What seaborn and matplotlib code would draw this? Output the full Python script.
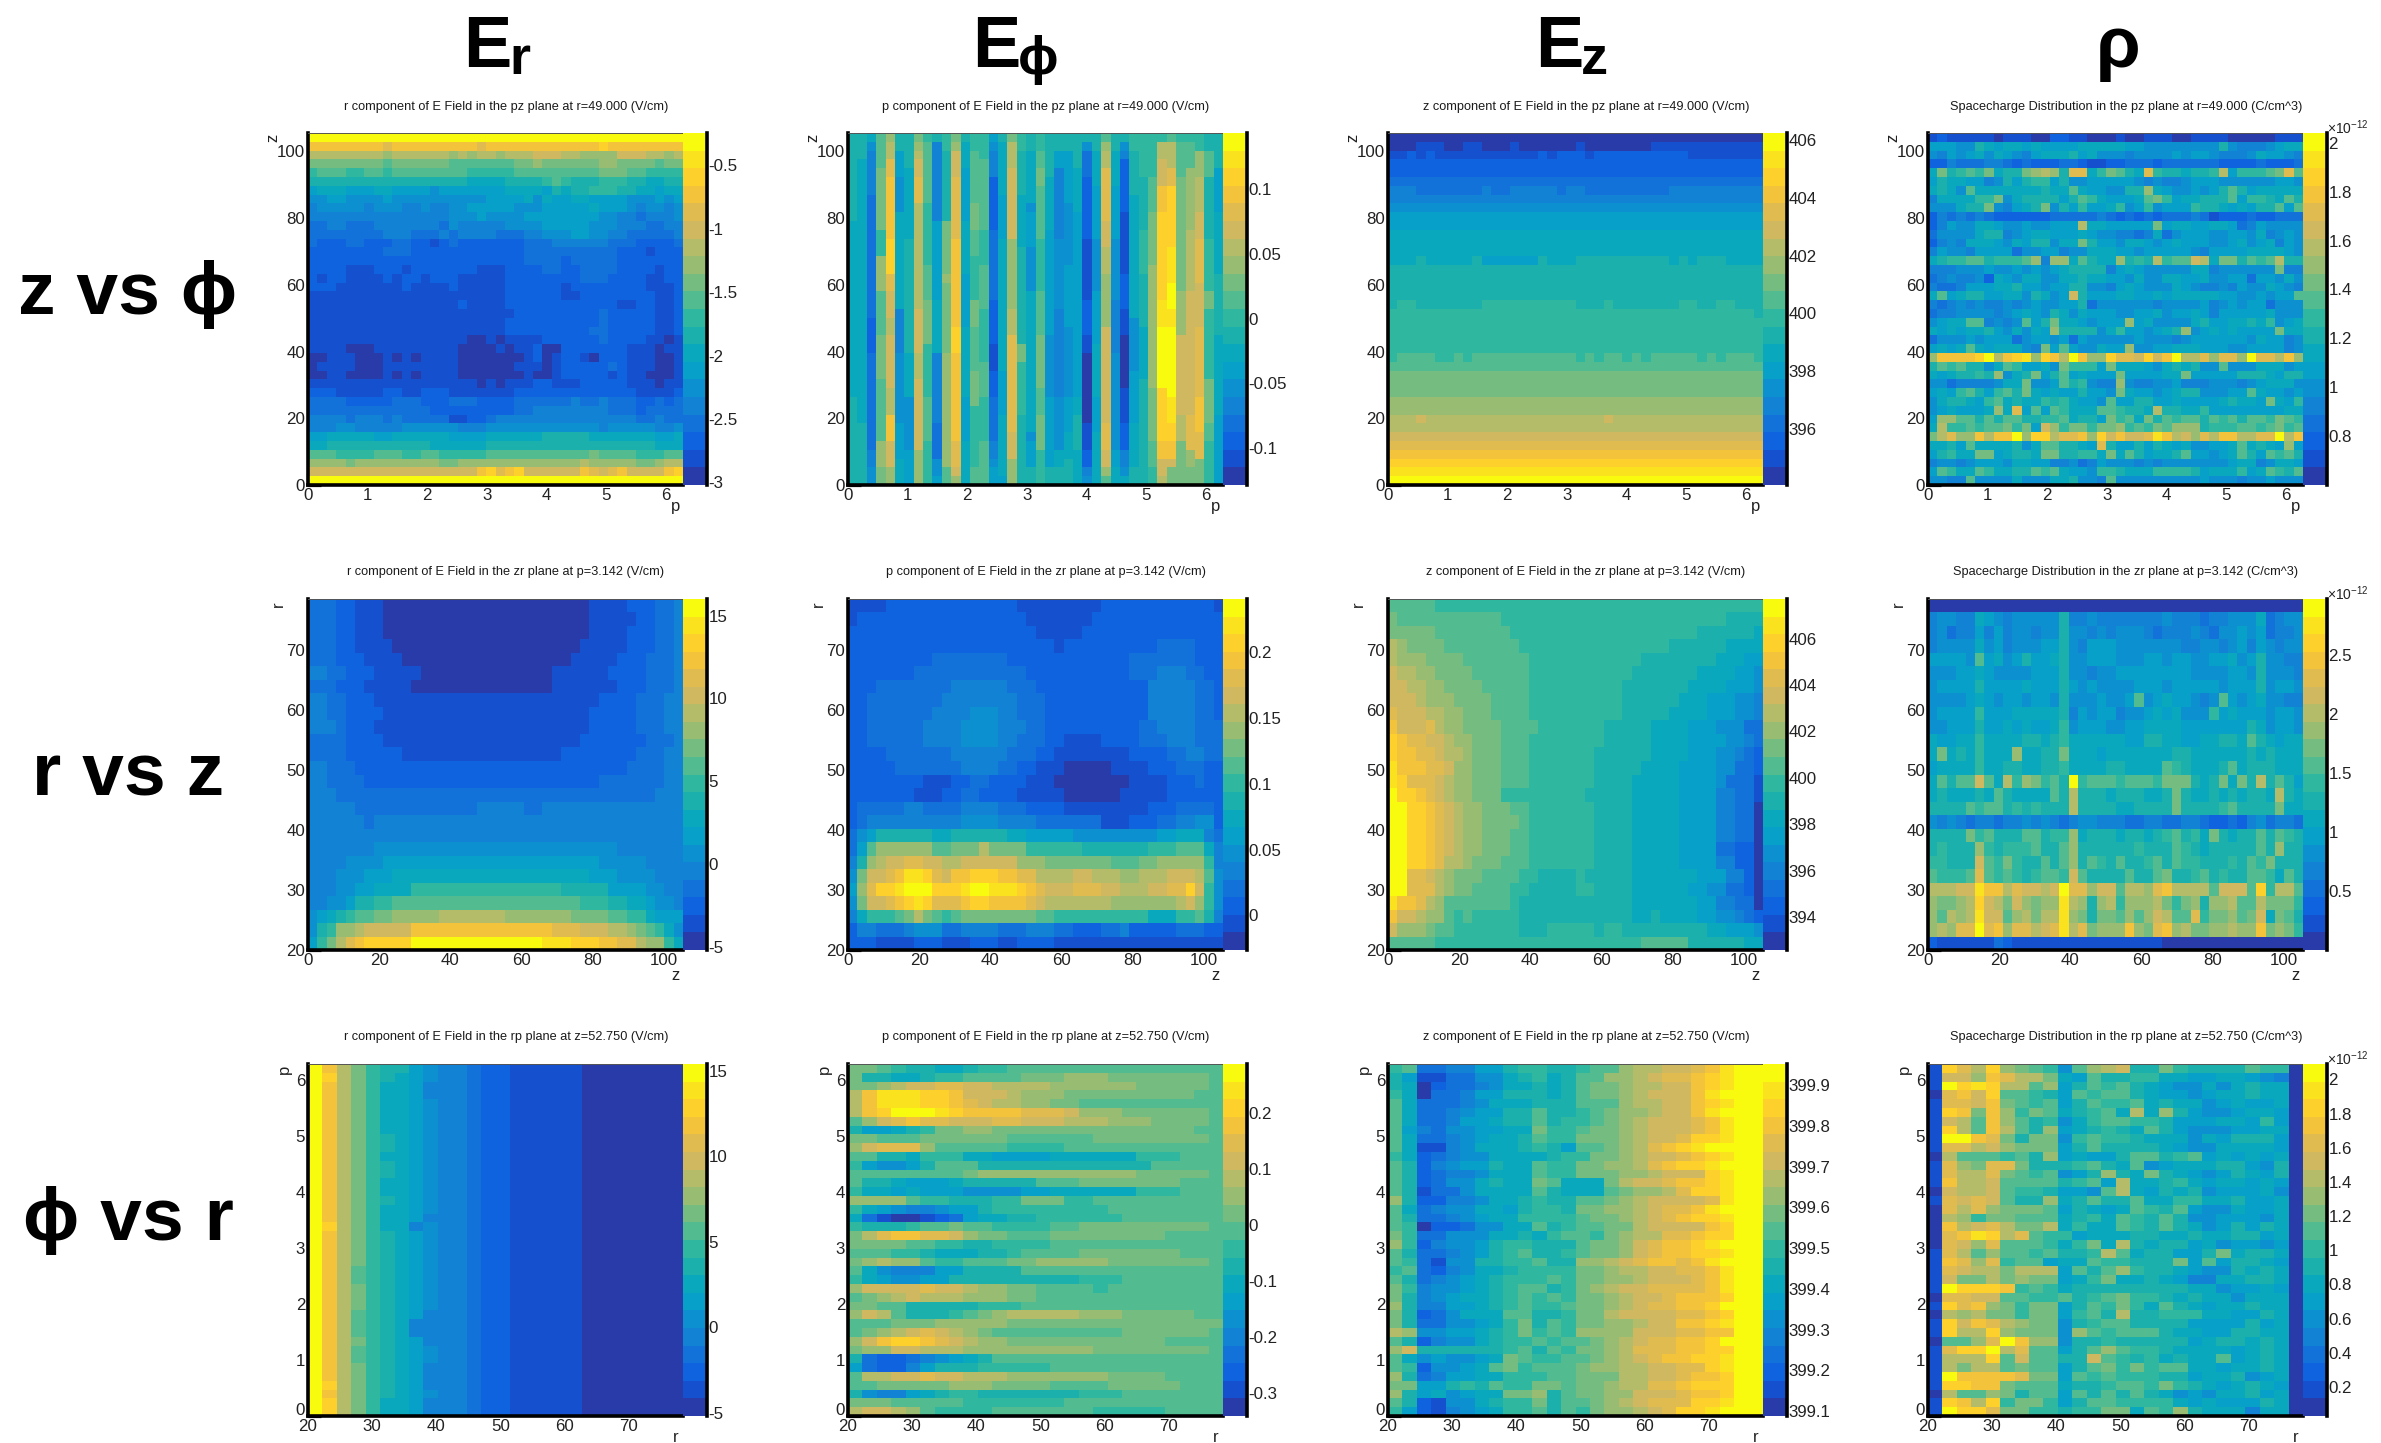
import numpy as np
import pandas as pd
import matplotlib
matplotlib.use("Agg")
import matplotlib.pyplot as plt
from matplotlib.colors import ListedColormap
from matplotlib.transforms import ScaledTranslation
import seaborn as sns

W, H = 2381, 1443
SYMS = "0123456789abcdefghij"

# Cell values are read from the picture as colour-band indices (one character per cell),
# either as plain strings or as "level+count" runs; columns-first where noted.
ER_PZ = [
 "j40",
 "ggggggggfgggggggggfgggggggggggghgggggggg",
 "ddddddddcddddddcdcddcdddeeeddcccceeeddcd",
 "bbbbbbbbabbbbbbaaaaaaabbcbbbbbbccbbbbabb",
 "9aaa99aa9aaaaaaaa99999aaaaaaaaabbbaa9999",
 "88888888888888888777788889a98889998877888",
 "6777666776666566666667777687889998877677",
 "5566555565555555555666675766776666555656",
 "4555554555445445566666555666667666545545",
 "4444444444444445556555566666666554434445",
 "3344333444444435444445555666665554443344",
 "3333333344433343444433344555665544333334",
 "3222332223322123222222233344444433322223",
 "2222222233322222222222233333333332221222",
 "2222222222222222222222233332333332222222",
 "2222111222122222221112222332233332222122",
 "2122111121221222111112222222233322221122",
 "2221111111211112111112222221222222221112",
 "1111111111111111111112222221122222222112",
 "1111111111111111211112222222222221122112",
 "1111111111111111111111222222222322222112",
 "1111111111111111111112222222222322222112",
 "1111111111111111111112222222223322222112",
 "1111111111111111100101111222222322221101",
 "1111000111111111000010112002222222111011",
 "0011100010101111000000012012210222111001",
 "0111100011111111000000111012222232111001",
 "0011000010101111000000010012222212110001",
 "1111111111111111110101112211122222111011",
 "2221111122112221111111222222222222211112",
 "3333222223332223332222333333433433322323",
 "3333333333333222222222334444444433323333",
 "4444344434333331122344444444444444433433",
 "4445544444555555444555555555555455555445",
 "6677777667777776666777777888887777777667",
 "7788888888888777777888888888888888888777",
 "aaa9999aaa99aa99999aaaaaaaaaaabaaaa999aa",
 "ccccbcccccccccbbcccccccccccccdcccccbbcdd",
 "eeeeeeeeeeeeeeeeeeghfgheeeeeegfefgeeeegh",
 "j40",
]
EPHI_PZ_COLS = [
 "810 720 810", "83 730 87", "71 51 45 314 24 311 42 52", "a4 b7 93 c4 a5 b5 a7 c3 b2",
 "c1 d2 f2 g7 h4 f2 e3 d2 e6 d3 g3 e3 c2", "82 63 54 76 75 45 58 64 73", "84 78 86 87 75 56 64",
 "b1 c1 d1 e2 f3 d12 e5 d3 e8 c4", "91 a7 97 a4 b5 96 a5 95", "81 49 69 76 48 34 52 62",
 "92 88 b6 c1 b8 c13 a2", "b1 c1 e3 f7 g10 h3 g10 f3 e1 c1", "81 73 66 76 66 78 65 75",
 "92 a6 b3 a3 95 b3 a5 b4 95 92 a2", "93 a8 94 a5 96 a4 95 a5", "61 51 43 26 35 33 25 13 23 35 42 51 62",
 "81 76 65 78 77 65 77 61", "b1 d3 e8 c8 d3 f11 e3 c3", "92 85 76 86 85 b2 96 88",
 "82 76 51 64 55 77 79 51 63 82", "92 a2 b2 a6 96 a5 b6 a3 b4 94", "85 76 67 65 57 68 82",
 "82 62 48 53 55 410 56 72 82", "82 66 57 67 58 64 73 85", "84 75 66 65 66 64 72 84 74",
 "81 51 33 27 17 24 12 08 13 22 41 51", "82 74 66 56 66 76 64 76", "a1 c1 d2 f6 e3 d3 c6 e8 e3 f3 e2 c1 a1",
 "82 74 66 57 46 55 56 62 74", "81 51 41 26 17 24 13 06 14 23 42 51 71", "92 85 78 76 56 66 75 82",
 "95 86 95 86 76 88 84", "95 a4 b6 c14 b6 a3 92", "91 d2 e3 g3 h10 i3 j7 h6 g2 e2 d1",
 "a1 d3 f2 h7 i4 j3 i2 j8 i3 h2 g2 e1 b2", "91 a4 b13 c5 e9 d3 b5", "91 a3 c7 d7 e6 e8 f4 c2 b2",
 "92 c3 d4 e3 f5 e5 f8 g4 f3 b3", "82 a3 87 96 b2 98 b5 a2 95", "84 65 77 87 79 68",
]
EZ_PZ = [
 "040", "03 13 02 12 03 11 06 11 07 115 04", "12 21 11 21 111 20 21 11 23 11 210 15", "240", "240", "340",
 "43 32 35 41 32 42 43 31 41 41 39 42", "440", "540", "640", "640", "740", "740", "740",
 "73 81 75 81 66 81 73 81 89 71 81 71 83 75", "840", "840", "840", "840",
 "81 92 86 81 910 83 91 82 85 92 82 92 81", "939 81", "940", "940", "940", "940",
 "91 a4 92 a1 91 a11 91 a1 91 a2 91 a1 91 a5 91 a1 91 a3 92", "a40", "b40", "b40", "b40", "c40", "c40",
 "d3 e1 d19 e1 d16", "d40", "e40", "f40", "g40", "h40", "i40", "j40",
]
RHO_PZ = [
 "1211111011100221100010011100111100000111",
 "6665587677676666777776655555555854445677",
 "5465675765467778675554555565665444576654",
 "2243334432322233211223332333333222232223",
 "7b89a9b788bcdc8ff79ba87f9887889d6999abfa",
 "6877664586899685566666545445666555555665",
 "7875a7777777877a7665588c76556568a8677777",
 "4777799b57888868a976667ab9677888a69987a8",
 "555788b54678b586966795695666988767688a6a",
 "2434343222222333334323232333431222322333",
 "2465577655655666d7766666b677667763465555",
 "3555578845677666765544347356665566574565",
 "2454777657688577b86657765676665567567465",
 "4655466663556645577766566666546666777765",
 "7899aa8999ac4cc7a877c898d9aaed7bb8a9ad88",
 "4445556556565678888467655555774555555b44",
 "3454452765775577877665755776675566366575",
 "4334666778665668855467655576544546557654",
 "7a6788667758756e86667766767777766556566a",
 "4345454454565566835555554555564565663555",
 "3445555456765875766655667566764666667555",
 "5677aa4545a68b7765666c675555786677879567",
 "7676778657576c8888579665678c567676666b77",
 "3555656663566563655555655545666666576645",
 "6767a7677754b6a655766c55667776665566664554",
 "cgggghjdghichgdjgcchffehegjddfcffcjffdgcj",
 "8a9a8857a96675b9996b77765787855a55577756c6",
 "7678898c578b68a67666b666677b66666888768887",
 "5534444577b556a89544c5445564445554567775",
 "6769a869a8b767668665b7665678855566a76656c8",
 "5788769a78779897665a6688667666678776b7698",
 "5676667c7f6a6a9777aa9887d8877966666666777",
 "6ccaa8a8aa8899a7886b9a7b8a9aa8a9a8aa9ba9f",
 "7d99a9aab9b6ec9bb9bbc9a9baccc8999aa9ab9ab",
 "bdfccgdggjchhdffgchegeefigdecfdggddffjdg",
 "7786a7777857aa8876f86686876755667a7876c66",
 "68977bb67887bb88997b7a86778a66567a86a9a86",
 "4554566657766445346555454555555567745776",
 "6a977a97788a9a7665998777999986777967a98a7",
 "5544a55557555778554a55555555565554556555",
]
ER_ZR = [
 "33 22 13 022 14 23 32 41", "33 22 13 022 15 22 32 41", "33 22 13 022 14 23 32 41", "33 22 14 020 15 23 32 41",
 "33 23 14 018 15 23 33 41", "42 32 23 15 014 16 24 33 41", "33 23 15 015 17 23 33 41", "42 32 23 124 24 33 42",
 "42 32 24 122 25 33 42", "43 31 23 123 25 33 42", "33 31 24 121 27 33 41", "34 26 117 28 33 42",
 "42 33 229 34 42", "42 34 225 37 42", "43 334 43", "45 313 45 32 415", "46 31 433", "440", "47 526 47",
 "44 54 623 55 44", "43 53 63 721 63 54 43", "43 52 62 74 916 85 64 52 42",
 "42 52 61 82 92 a20 93 82 72 61 52 41", "51 61 71 81 91 a2 b2 c5 d7 c7 b4 a2 92 71 63",
 "51 81 91 c2 d1 e5 g15 f3 e3 d2 c1 b1 a1 91 71 51", "61 91 b1 d1 f1 g1 h5 j14 i3 h3 g2 f2 d1 c2 91 71",
]
EPHI_ZR = [
 "14 214 19 212 11", "11 218 17 214", "220 15 215", "222 11 210 34 23", "29 38 213 37 23",
 "27 312 211 33 43 32 22", "23 38 46 33 212 45 32 21", "22 38 48 33 211 45 32 21",
 "22 37 44 53 42 33 211 45 32 21", "22 36 44 54 43 32 210 32 44 33", "22 36 44 54 42 33 22 14 24 33 43 33",
 "24 37 46 33 22 18 24 32 42 32", "25 37 44 32 22 13 05 14 23 33 22", "28 13 22 32 24 13 08 14 23 31 22",
 "27 13 22 32 24 15 06 15 26", "21 35 42 34 44 33 24 19 23 34 21", "21 31 410 54 44 37 13 23 32 42 52 21",
 "31 51 61 86 72 86 72 65 59 62 73 41 31", "31 61 a1 c6 a2 b3 d1 b4 96 87 93 a3 71 41",
 "41 81 c1 d1 e2 f2 e2 d2 e6 c3 b7 a3 b2 c5 91 41",
 "51 b1 e2 f1 g1 i2 h1 f1 e1 g2 h3 g2 f2 d4 e2 d3 c2 d3 e3 d1 a1 51",
 "61 c1 f1 h2 i1 j3 h3 i1 j2 i3 h1 g1 f1 e3 f3 e2 d3 e2 f2 h1 e1 91 51",
 "51 b1 e2 f1 g1 h1 i1 h1 f3 g1 h2 g4 f1 e1 d7 c7 d1 e1 c1 91 51",
 "41 71 93 a1 b1 d1 b1 a1 91 a1 b8 a2 910 73 92 a1 81 41",
 "21 42 33 41 53 32 44 33 43 32 23 32 41 25 33 22", "23 14 23 13 23 12 24 118",
]
EZ_ZR = [
 "a5 935", "b1 a11 924 84", "b5 a8 920 86 71", "d1 c1 b4 a8 916 86 74", "d1 c3 b4 a7 912 88 73 62",
 "e1 d2 c2 b4 a6 911 87 74 62 51", "e2 d2 c2 b4 a5 910 87 74 63 51", "e3 d1 c3 b4 a4 910 86 73 63 52 41",
 "f1 e3 d2 c2 b3 a4 910 85 74 63 52 41", "g1 e3 f1 d1 c2 b4 a4 97 85 74 63 53 32",
 "h1 g1 f2 e2 d1 c2 b3 a3 98 85 74 64 52 41 31", "h1 g2 f2 e1 d2 c1 b3 a3 97 86 74 63 52 41 31 21",
 "i1 g3 f2 e1 c2 b3 a3 97 85 74 64 52 32 21", "i1 h1 f3 e1 d1 c2 b3 a3 97 84 75 64 51 33 11",
 "j1 h2 g1 f1 e1 d1 c2 b3 99 85 75 64 42 32 11", "j2 h2 g1 f1 e1 d1 c2 b3 a2 97 84 75 64 42 32 01",
 "j2 h2 g1 f1 e1 d1 c2 b4 a1 97 84 75 64 42 32 01", "j2 h2 g1 f1 e1 d1 c2 b3 a2 97 84 75 64 42 32 01",
 "j2 h2 g1 f1 e1 d1 c2 b3 a2 97 84 75 64 32 22 01", "j2 h2 g1 f1 d2 c1 b3 a3 97 84 75 64 42 22 01",
 "j2 f2 e1 d1 c1 b3 a4 92 84 91 85 77 63 42 21 01", "j2 f3 d1 c1 b2 a4 92 85 92 84 76 62 52 32 21 01",
 "i1 g2 f1 d1 c1 a7 91 812 77 62 42 32 01", "g1 e2 d1 c2 a1 91 a1 95 812 72 81 74 62 52 41 31 21",
 "e1 c3 b1 a2 97 83 95 81 92 89 72 63 51", "a5 922 a5 86 72",
]
RHO_ZR = [
 "040",
 "4554476545555584454444444544434455573455",
 "4534464645545585545455543444543556563445",
 "4555575645556685466655555554455456465455",
 "66665a6756866785566655566566556675685544",
 "5556676555566685545566666666555566585554",
 "5666686666766686565555666566666566685665",
 "5555676566566585556556a56766545a65675544",
 "5666696667777784656645567675559676665665",
 "5566686676766795666556677776666666875665",
 "7667797777887897777776688776677887a87677",
 "7b7879777c7788b7776777777788777777878777",
 "6777797788778897777887777a987778a7888777",
 "7a8aaea7d9cb9a8j9aaa9aaa9bbb878b7b8d8a86",
 "7877787a87777a8d8887888778b8778787887d87",
 "8888a9aa8989888d8888778888b88889a8888b77",
 "5454344344545434554443344334432232453443",
 "8888b9a888aa899c7888788789a897b8788a8a98",
 "89888c98999a88ac8888889888a98788888a8c88",
 "99888ea9b988a8ac8a98a889a8a9988898a9b888",
 "a999afa9a989aa9ea8888a88ab889a8988aa97a8",
 "dddeeiggdfeedejffceeaddcfgddddaeeeah9dda",
 "cbbcdhedbecbccidc8cd9cccdb9bc8ccdaadbbb9",
 "cadcdieeacdbddicb8bbacacedaaf9bbcabe7ba8",
 "cdcffjfgcffdefidfbcccgcbfgcdbbccdccgbcb9",
 "2111111321111111111111111000000000000000",
]
# first nine columns read row by row; the outer columns barely change with p
ER_RP_HEAD = [
 "jgdb98865", "jhdb98765", "jgdb97764", "jgdb97764", "jgdb97765", "jgdb97765", "jgdb97765", "jgdb97765",
 "jgdb98765", "jgdb98765", "jgdb97765", "jgdb98765", "jgdb98765", "jgdb97765", "jgdb97765", "jgdb98765",
 "jgdb97765", "jgdb97764", "jhdb97745", "jgdb98765", "jgdb98765", "jgdb98765", "jgdb98765", "jgda98765",
 "jgda98765", "jgdb98765", "jgdb98765", "jgdb98765", "jgda98764", "jgda98744", "jgda98744", "jgdb98764",
 "jgda98765", "jgda98765", "jgdb98764", "jgdb98764", "jhdb98764", "jgdb98765", "jhdb97764", "jhdb97764",
]
ER_RP_TAIL = "44322111110000000"
EPHI_RP = [
 "b2 a1 91 82 72 81 92 a15", "b1 82 72 81 92 a4 b3 c3 b7 a1", "b2 c1 d1 e2 f2 e2 d4 c6 b5 a1",
 "d1 g1 i3 h2 g1 e1 e2 d1 c3 b9 a2", "d1 g1 i3 h2 g1 f1 e1 d2 c2 b2 a10", "d1 g1 h1 j3 i1 h1 g4 f3 e1 c3 b6 a1",
 "a1 c1 e1 f1 g1 f2 e3 f2 e3 d3 c3 b4 a1", "81 62 71 81 91 b2 c2 b14 a2", "b2 a3 b6 a6 b8 a1",
 "c1 e1 f3 c1 a1 a4 94 a11", "a2 82 71 93 72 64 76 93 a3", "91 61 52 61 81 a3 812 a5", "a8 b1 c11 b5 a1",
 "a1 82 71 63 71 85 a3 b7 a3", "91 72 61 71 63 54 62 76 93 a3", "c4 a1 92 83 92 b3 92 a9",
 "91 71 61 51 42 51 62 81 98 a8", "71 31 11 02 11 21 31 61 72 82 96 a7", "91 83 91 a2 b1 a2 94 a2 b9 a1",
 "b1 d1 f1 g2 f2 e1 c1 b2 a3 b8 a4", "b4 a2 92 82 94 a12", "a2 a1 92 81 73 82 91 a4 b7 a3",
 "b1 c1 d1 c2 a1 92 a3 b2 c5 b7 a1", "a1 71 51 43 62 84 a14", "91 71 61 52 62 89 93 a7",
 "c1 e4 f1 e2 d1 c2 b2 a4 91 a8", "a1 b1 c1 d1 e1 d3 c3 b2 a13", "b2 a2 85 93 a14",
 "c1 e1 d1 a1 83 91 a1 b1 c1 d5 c3 b5 a2", "a3 b3 c5 b15", "a1 b1 c1 d1 e1 f1 e1 d1 c1 b1 a9 b6 a1",
 "c1 e1 g1 h2 g1 f1 e1 d1 c2 b11 a4", "b1 c2 e2 d3 c9 b8 a1", "81 31 22 31 41 51 61 71 81 a16",
 "61 31 22 41 61 83 95 a12", "a1 d2 e2 f1 e2 d3 c7 b4 a4", "a2 b5 c3 b4 a4 b5 a3",
 "81 51 42 61 71 81 92 87 93 a7", "b3 a5 97 a11", "d1 e2 d1 c1 a1 94 a7 95 a4",
]
EZ_RP = [
 "9a334466899889aacddeefgijj", "8611335578978aaccdeffghijj", "8702334577878abbcddeeghijj", "9703346688878abbcdeeegijjj",
 "a733345777888aaacddeeghijj", "a733456688a889abccdeegijjj", "a733466788a899abcdeeefgijj", "a643556677b99abbcdeeefgijj",
 "a733456778a99bbbcdeefhhijj", "a711457778986aabcdfghijjjj", "97234557777899bbcdeefghijj", "a824566877a99bbccdfghhijjj",
 "a823445777a99bbbccdeeehijj", "a823557877ba777bdeefgghijj", "a813357777a8777abccdfhhijj", "c822445778988aabcdeeeefijj",
 "a734557768998bbccdeffgijjj", "a833456779999abbcdefghhijj", "a902235577a89aabbdeeeeghij", "b93355577879aa9bcddffghhjj",
 "c924556899888abbcefgghijjj", "a83345689a889abbcefgghhijj", "a931558899a88ccdefggfgijjj", "9a32457789999bbcddeeffgijj",
 "a8345678999a9bbccdeeefgijj", "b94556789aa89bcdeeffffgijj", "b84567789a9a9bbcdeefggghjj", "c84466789a99abbcdeffgghjjj",
 "b8235777aa889bbdeeeeffghjj", "b83355679b8a9bbccdeegghijj", "dc5566789b9a9cccceeeffgghj", "a824557899a9aabcdeffgghjjj",
 "ce8888889a8a9bbcdfffgghhjj", "a7565567ba99aabcdefgghhijj", "a925567ab9aaabccddeeffhijj", "c8346677999aabbbddeefgghjj",
 "bb66898a99bbabbcddffghhhjj", "c8675677bbc8abbcceeefgghjj", "a821557899b8aabcdefffhhijj", "9621456799a8a9bccdefhhijjj",
]
RHO_RP = [
 "1hfdhcba95acde88b98888a999", "1eecgfddb76a88997766776545", "1jhihddac68a9a876557578770", "0fgehaa986a9aa876656778770",
 "1ffegba9a68a99a78775676677", "1hgbgc9ba789a7d7c865567767", "1edagca89579aa998666776968", "1hdagda8c678987a8655566777",
 "1jjgfb8bb59a99877757688867", "1ffdecbbb68a88887655777760", "0daaa9a8c67668aa89a6767676", "1fcbffb8889a87a56777886587",
 "1fddfba9a568c87b8765687687", "1gddeaaaa89a6d778976776760", "0eddea998665ad76878566675670", "1fefea88c78a88a77997786677",
 "0fdfcbbba68767a98a65576676", "0dc9bbaaa7897a98a855666576", "0gdefdbbd7977a98a875686876", "0fgihdfa996777887787788676",
 "0fecfaaa979b7d878867566566", "1fdacaa9a889da788668b78876", "1gfcf9aa677a99888b6a688766", "1feddbddd6a8ac988765587877",
 "1ebbdbcbb679b7787644778877", "1jhhhg9a97888888887756676", "0ffeeaa99a89ab998787757777", "1hfgcb9bb68a9b97a876778777",
 "0dcdbb9bb69a8d889997766877", "1hegfdcbb589aa888866668677", "1hddhcbbb5ca9aaa8776688777", "0aacfjgcc58898888867887870",
 "1fhhjdfaa68aca998777767877", "1dddhaeaa88ea9897877a67879", "1dbddabaa68ab9b9aa77677877", "1jggggfbb6a9a9998867785678",
 "1hhggbaaa7889aa9b987678768", "0daacb8aa6a8a8a87565778676", "1hgdh9bb968aa9999767666877", "1jhhfbb99899bb7a9c87774776",
]

LEVELS = {  # colour-bar limits
 "ER_PZ": (-3.02, -0.245), "EPHI_PZ": (-0.1287, 0.1437), "EZ_PZ": (394.04, 406.26), "RHO_PZ": (0.6, 2.04),
 "ER_ZR": (-5.2, 16.0), "EPHI_ZR": (-0.0263, 0.2403), "EZ_ZR": (392.6, 407.7), "RHO_ZR": (0.004, 2.97),
 "ER_RP": (-5.2, 15.4), "EPHI_RP": (-0.341, 0.288), "EZ_RP": (399.088, 399.952), "RHO_RP": (0.03, 2.09),
}
CBAR_TICKS = {
 "ER_PZ": [-3, -2.5, -2, -1.5, -1, -0.5], "EPHI_PZ": [-0.1, -0.05, 0, 0.05, 0.1],
 "EZ_PZ": [396, 398, 400, 402, 404, 406], "RHO_PZ": [0.8, 1, 1.2, 1.4, 1.6, 1.8, 2],
 "ER_ZR": [-5, 0, 5, 10, 15], "EPHI_ZR": [0, 0.05, 0.1, 0.15, 0.2],
 "EZ_ZR": [394, 396, 398, 400, 402, 404, 406], "RHO_ZR": [0.5, 1, 1.5, 2, 2.5],
 "ER_RP": [-5, 0, 5, 10, 15], "EPHI_RP": [-0.3, -0.2, -0.1, 0, 0.1, 0.2],
 "EZ_RP": [399.1, 399.2, 399.3, 399.4, 399.5, 399.6, 399.7, 399.8, 399.9],
 "RHO_RP": [0.2, 0.4, 0.6, 0.8, 1, 1.2, 1.4, 1.6, 1.8, 2],
}
TITLES = {
 "ER_PZ": "r component of E Field in the pz plane at r=49.000 (V/cm)",
 "EPHI_PZ": "p component of E Field in the pz plane at r=49.000 (V/cm)",
 "EZ_PZ": "z component of E Field in the pz plane at r=49.000 (V/cm)",
 "RHO_PZ": "Spacecharge Distribution in the pz plane at r=49.000 (C/cm^3)",
 "ER_ZR": "r component of E Field in the zr plane at p=3.142 (V/cm)",
 "EPHI_ZR": "p component of E Field in the zr plane at p=3.142 (V/cm)",
 "EZ_ZR": "z component of E Field in the zr plane at p=3.142 (V/cm)",
 "RHO_ZR": "Spacecharge Distribution in the zr plane at p=3.142 (C/cm^3)",
 "ER_RP": "r component of E Field in the rp plane at z=52.750 (V/cm)",
 "EPHI_RP": "p component of E Field in the rp plane at z=52.750 (V/cm)",
 "EZ_RP": "z component of E Field in the rp plane at z=52.750 (V/cm)",
 "RHO_RP": "Spacecharge Distribution in the rp plane at z=52.750 (C/cm^3)",
}
AXES_INFO = {
 "pz": dict(x=(0, 6.283, 1, 0.2, "p"), y=(0, 105.5, 20, 5, "z")),
 "zr": dict(x=(0, 105.5, 20, 5, "z"), y=(20, 78.5, 10, 2, "r")),
 "rp": dict(x=(20, 78.5, 10, 2, "r"), y=(0, 6.283, 1, 0.2, "p")),
}
COL_HEADERS = [("E", "r", 463), ("E", "\u03d5", 972), ("E", "z", 1535)]
ROW_LABELS = ["z vs \u03d5", "r vs z", "\u03d5 vs r"]

BAND_COLORS = ["#283ba8", "#1550cf", "#1063de", "#1272d9", "#1282d5", "#0d90d0", "#07a0c8", "#0aa8bd",
               "#1cb0ac", "#30b7a0", "#52bb90", "#75bc80", "#97bc72", "#b4bb69", "#cfb860", "#e0bb50",
               "#f3c33b", "#fdd02b", "#fae31e", "#f9fb0e"]


def decode_row(row, n):
    if " " in row or len(row) < 6:
        out = "".join(tok[0] * int(tok[1:]) for tok in row.split())
    else:
        out = row
    out = out[:n]
    return out + out[-1] * (n - len(out))


def to_frame(rows, nrows, ncols, key, by_col=False):
    vmin, vmax = LEVELS[key]
    step = (vmax - vmin) / 20
    n_a, n_b = (ncols, nrows) if by_col else (nrows, ncols)
    rows = (list(rows) + [rows[-1]] * n_a)[:n_a]
    idx = np.array([[SYMS.index(c) for c in decode_row(r, n_b)] for r in rows], float)
    if by_col:
        idx = idx.T
    return pd.DataFrame(vmin + (idx + 0.5) * step)


sns.set_theme(style="white")
plt.rcParams["font.family"] = ["Liberation Sans", "DejaVu Sans"]
plt.rcParams["mathtext.fontset"] = "custom"
plt.rcParams["mathtext.rm"] = "Liberation Sans"

fig = plt.figure(figsize=(W / 100, H / 100), dpi=100, facecolor="white")
cmap = ListedColormap(BAND_COLORS)


def fx(px):
    return px / W


def fy(py):
    return 1 - py / H


COL_X = [308, 848, 1388, 1928]
ROW_Y = [(133, 485), (599, 950), (1064, 1416)]
TITLE_Y = [107, 572, 1037]
XLAB_Y = [507, 976, 1438]
YLAB_DX = [35, 30, 24]
PANEL_W, CBAR_W = 375, 24

ER_RP = [h + ER_RP_TAIL for h in ER_RP_HEAD]
RHO_RP_FIXED = [r[:25] + "0" for r in RHO_RP]
EZ_RP_FIXED = [r[:24] + "jj" for r in EZ_RP]

PANELS = [
 ["ER_PZ", ER_PZ, False], ["EPHI_PZ", EPHI_PZ_COLS, True], ["EZ_PZ", EZ_PZ, False], ["RHO_PZ", RHO_PZ, False],
 ["ER_ZR", ER_ZR, False], ["EPHI_ZR", EPHI_ZR, False], ["EZ_ZR", EZ_ZR, False], ["RHO_ZR", RHO_ZR, False],
 ["ER_RP", ER_RP, False], ["EPHI_RP", EPHI_RP, False], ["EZ_RP", EZ_RP_FIXED, False], ["RHO_RP", RHO_RP_FIXED, False],
]
SHAPES = [(40, 40), (26, 40), (40, 26)]
PLANES = ["pz", "zr", "rp"]

for i, (key, rows, by_col) in enumerate(PANELS):
    r, c = divmod(i, 4)
    nrows, ncols = SHAPES[r]
    top, bottom = ROW_Y[r]
    left = COL_X[c]
    ax = fig.add_axes([fx(left), fy(bottom), PANEL_W / W, (bottom - top) / H])
    cax = fig.add_axes([fx(left + PANEL_W), fy(bottom), CBAR_W / W, (bottom - top) / H])
    df = to_frame(rows, nrows, ncols, key, by_col)
    vmin, vmax = LEVELS[key]
    sns.heatmap(df, ax=ax, cbar_ax=cax, cmap=cmap, vmin=vmin, vmax=vmax,
                xticklabels=False, yticklabels=False, square=False, linewidths=0)
    info = AXES_INFO[PLANES[r]]
    x0, x1, xmaj, xmin_, xl = info["x"]
    y0, y1, ymaj, ymin_, yl = info["y"]
    xt = np.arange(np.ceil(x0 / xmaj) * xmaj, x1 + 1e-6, xmaj)
    xm = np.arange(np.ceil(x0 / xmin_ - 1e-9) * xmin_, x1 + 1e-6, xmin_)
    yt = np.arange(np.ceil(y0 / ymaj) * ymaj, y1 + 1e-6, ymaj)
    ym = np.arange(np.ceil(y0 / ymin_ - 1e-9) * ymin_, y1 + 1e-6, ymin_)
    ax.set_xticks((xt - x0) / (x1 - x0) * ncols)
    ax.set_xticklabels(["%g" % v for v in xt])
    ax.set_xticks((xm - x0) / (x1 - x0) * ncols, minor=True)
    ax.set_yticks((y1 - yt) / (y1 - y0) * nrows)
    ax.set_yticklabels(["%g" % v for v in yt], rotation=0)
    ax.set_yticks((y1 - ym) / (y1 - y0) * nrows, minor=True)
    ax.tick_params(which="major", direction="in", length=9, width=2.3, color="black",
                   labelsize=12.2, labelcolor="#222222", pad=2, bottom=True, left=True)
    ax.tick_params(which="minor", direction="in", length=5, width=2.3, color="black", bottom=True, left=True)
    if r == 2:
        # lift the bottom "0" a little so it clears the "20" below it
        lowest = ax.get_yticklabels()[0]
        lowest.set_transform(lowest.get_transform() + ScaledTranslation(0, 7 / 100, fig.dpi_scale_trans))
    for name, sp in ax.spines.items():
        sp.set_visible(True)
        if name in ("left", "bottom"):
            sp.set_linewidth(2.6)
            sp.set_color("black")
        else:
            sp.set_linewidth(0.7)
            sp.set_color("#555555")
    cbar = ax.collections[0].colorbar
    cbar.outline.set_visible(False)
    cax.spines["right"].set_visible(True)
    cax.spines["right"].set_linewidth(2.6)
    cax.spines["right"].set_color("black")
    ticks = CBAR_TICKS[key]
    cbar.set_ticks(ticks)
    cbar.set_ticklabels(["%g" % v for v in ticks])
    cax.tick_params(which="major", direction="in", length=9, width=2.3, color="black",
                    labelsize=12.2, labelcolor="#222222", pad=1, right=True, left=False)
    cax.minorticks_off()
    fig.text(fx(left + 198), fy(TITLE_Y[r]), TITLES[key], ha="center", va="center",
             fontsize=9.15, color="#1a1a1a")
    fig.text(fx(left + PANEL_W - 7), fy(XLAB_Y[r]), xl, ha="center", va="center", fontsize=12, color="#222222")
    fig.text(fx(left - YLAB_DX[r]), fy(top + 5), yl, ha="center", va="center", rotation=90, fontsize=12, color="#222222")
    if key.startswith("RHO"):
        fig.text(fx(left + PANEL_W + 24), fy(top - 5), r"$\times10^{-12}$", ha="left", va="center",
                 fontsize=10, color="#222222")

for letter, sub, px in COL_HEADERS:
    fig.text(fx(px), fy(67), letter, fontsize=52, fontweight="bold", ha="left", va="baseline", color="black")
    fig.text(fx(px + 46), fy(74), sub, fontsize=39, fontweight="bold", ha="left", va="baseline", color="black")
fig.text(fx(2118), fy(67), "\u03c1", fontsize=52, fontweight="bold", ha="center", va="baseline", color="black")
for label, py, cx in zip(ROW_LABELS, [314, 796, 1240], [128, 128, 128]):
    fig.text(fx(cx), fy(py), label, fontsize=54, fontweight="bold", ha="center", va="baseline", color="black")

fig.savefig("out.png", dpi=100)
